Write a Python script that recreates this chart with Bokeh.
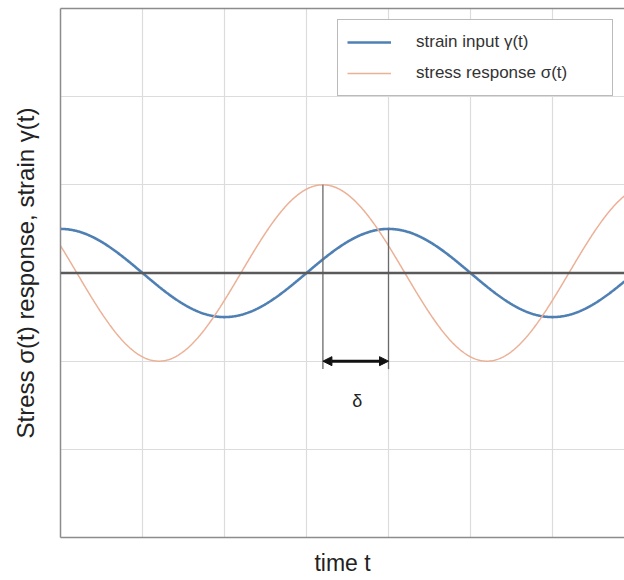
import numpy as np
from bokeh.plotting import figure
from bokeh.models import (Range1d, FixedTicker, LinearAxis, Legend, LegendItem,
                          Arrow, NormalHead, Span, Label)
from bokeh.embed import file_html
from bokeh.resources import INLINE

# ---- values (grid units) ----
t_window = [0.0, 6.878]
y_window = [-3.0, 3.0]
strain_amplitude = 0.5
stress_amplitude = 1.0
period = 4.0
strain_peak_time = 4.0
stress_peak_time = 3.2
grid_x = [1, 2, 3, 4, 5, 6]
grid_y = [-2, -1, 1, 2]
delta_times = [3.2, 4.0]
delta_tops = [1.0, 0.5]
delta_bottom = -1.09
delta_level = -1.0
delta_label_pos = [3.62, -1.45]
delta_label = "δ"
x_label = "time t"
y_label = "Stress σ(t) response, strain γ(t)"
legend_labels = ["strain input γ(t)", "stress response σ(t)"]

t = np.linspace(t_window[0], t_window[1], 800)
strain = strain_amplitude * np.cos(2 * np.pi * (t - strain_peak_time) / period)
stress = stress_amplitude * np.cos(2 * np.pi * (t - stress_peak_time) / period)

FONT = "Liberation Sans"
FRAME = "#8c8c8c"

p = figure(width=624, height=580, x_range=Range1d(*t_window), y_range=Range1d(*y_window),
           output_backend="svg", toolbar_location=None,
           min_border_left=60, min_border_right=0, min_border_top=8, min_border_bottom=43)
p.outline_line_color = None
p.background_fill_color = "white"
p.border_fill_color = "white"

for ax in (p.xaxis[0], p.yaxis[0]):
    ax.ticker = FixedTicker(ticks=[])
    ax.axis_line_color = FRAME
    ax.axis_line_width = 1.5
    ax.major_tick_line_color = None
    ax.minor_tick_line_color = None
    ax.major_label_text_font_size = "0px"
    ax.axis_label_text_font = FONT
    ax.axis_label_text_font_size = "23px"
    ax.axis_label_text_font_style = "normal"
    ax.axis_label_text_color = "#222222"

p.xaxis[0].axis_label = x_label
p.xaxis[0].axis_label_standoff = 12
p.yaxis[0].axis_label = y_label
p.yaxis[0].axis_label_standoff = 22
p.yaxis[0].axis_label_text_font_size = "24px"

top_axis = LinearAxis(ticker=FixedTicker(ticks=[]), axis_line_color=FRAME, axis_line_width=1.5,
                      major_tick_line_color=None, minor_tick_line_color=None,
                      major_label_text_font_size="0px")
p.add_layout(top_axis, "above")

p.xgrid.ticker = FixedTicker(ticks=grid_x)
p.ygrid.ticker = FixedTicker(ticks=grid_y)
for g in (p.xgrid, p.ygrid):
    g.grid_line_color = "#dcdcdc"
    g.grid_line_width = 1.2

p.add_layout(Span(location=0, dimension="width", line_color="#5a5a5a", line_width=2.5))

r_strain = p.line(t, strain, line_color="#4f80b4", line_width=2.6)
r_stress = p.line(t, stress, line_color="#ecb096", line_width=1.5)

p.segment(x0=delta_times, y0=delta_tops, x1=delta_times, y1=[delta_bottom] * 2,
          line_color="#6a6a6a", line_width=1.3)

p.add_layout(Arrow(start=NormalHead(size=9, fill_color="#111111", line_color="#111111"),
                   end=NormalHead(size=9, fill_color="#111111", line_color="#111111"),
                   x_start=delta_times[0], x_end=delta_times[1],
                   y_start=delta_level, y_end=delta_level,
                   line_color="#111111", line_width=3))

p.add_layout(Label(x=delta_label_pos[0], y=delta_label_pos[1], text=delta_label,
                   text_font=FONT, text_font_size="18px", text_color="#222222",
                   text_align="center", text_baseline="middle"))

legend = Legend(items=[LegendItem(label=legend_labels[0], renderers=[r_strain]),
                       LegendItem(label=legend_labels[1], renderers=[r_stress])],
                location="top_right", margin=11, padding=9, spacing=5,
                glyph_width=44, glyph_height=26, label_height=26, label_width=187,
                label_standoff=25, border_line_color="#777777", border_line_width=1.2,
                label_text_font=FONT, label_text_font_size="17px", label_text_color="#333333",
                background_fill_color="white", background_fill_alpha=1.0)
p.add_layout(legend)

open("out.html", "w").write(file_html(p, INLINE))
